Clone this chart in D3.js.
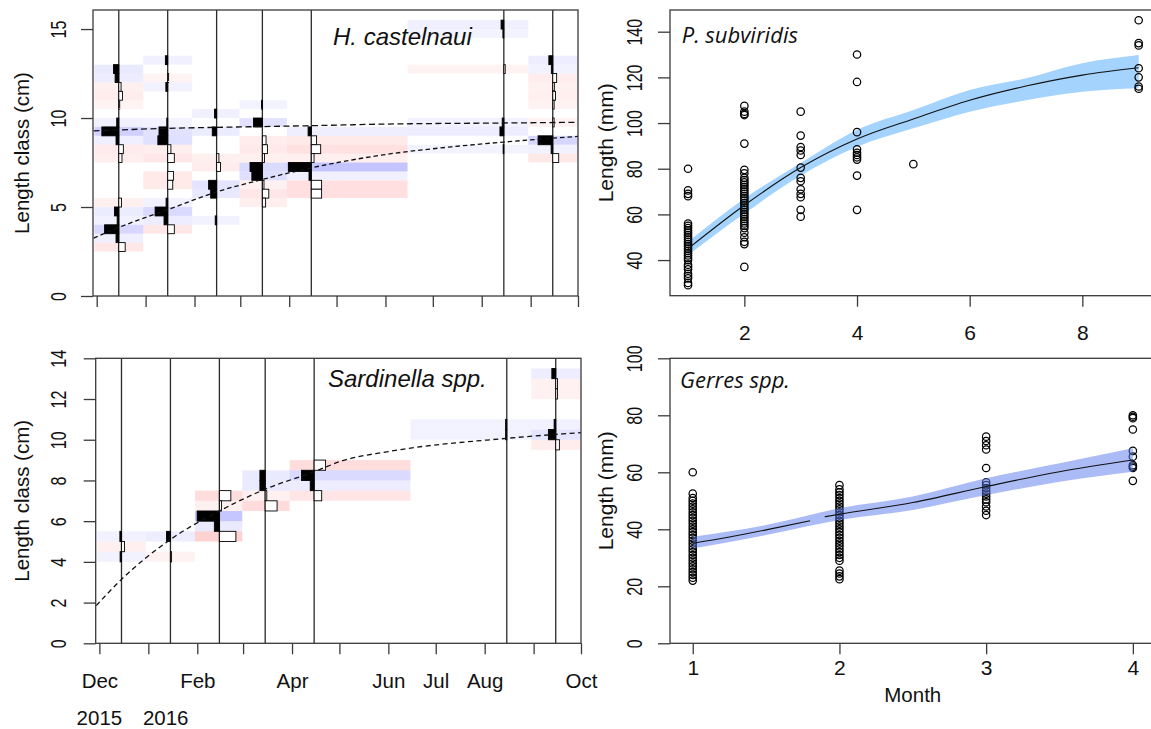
<!DOCTYPE html>
<html>
<head>
<meta charset="utf-8">
<script src="https://cdn.jsdelivr.net/npm/d3@7"></script>
<style>
body { margin: 0; background: #fff; }
svg { display: block; font-family: "Liberation Sans", Arial, sans-serif; }
</style>
</head>
<body>
<svg id="chart" width="1151" height="729"></svg>
<script>
const parse = d3.timeParse("%Y-%m-%d");

// ---- length-frequency panels (left) ----
const sampleDates = ["2015-12-15", "2016-01-15", "2016-02-15", "2016-03-15", "2016-04-15", "2016-08-15", "2016-09-15"];
const monthTicks = ["2015-12-01", "2016-01-01", "2016-02-01", "2016-03-01", "2016-04-01", "2016-05-01",
                    "2016-06-01", "2016-07-01", "2016-08-01", "2016-09-01", "2016-10-01"];
const monthLabels = ["Dec", "", "Feb", "", "Apr", "", "Jun", "Jul", "Aug", "", "Oct"];
const yearTicks = ["2015-12-01", "2016-01-12"];
const yearLabels = ["2015", "2016"];
const binWidth = 0.5;

// restructured frequencies per sample: [bin lower bound, value]
const castelRc = [
  [[12.5, 0.23], [12, 0.16], [11.5, -0.1], [11, -0.16], [10.5, -0.04], [9.5, 0.09], [9, 0.74], [8.5, 0.12],
   [8, -0.2], [7.5, -0.14], [5, -0.12], [4.5, 0.19], [4, 0.07], [3.5, 0.62], [3, 0.12], [2.5, -0.28]],
  [[13, 0.1], [12, -0.04], [11.5, 0.08], [9.5, 0.04], [9, 0.38], [8.5, 0.43], [8, -0.14], [7.5, -0.29],
   [6.5, -0.25], [6, -0.22], [5, 0.07], [4.5, 0.55], [4, 0.16], [3.5, -0.29]],
  [[10, 0.09], [9, 0.19], [7.5, -0.1], [7, -0.17], [6, 0.35], [5.5, 0.26], [4, 0.06]],
  [[10.5, 0.04], [9.5, 0.39], [8.5, -0.16], [8, -0.22], [7.5, -0.09], [7, 0.54], [6.5, 0.46], [6, -0.07],
   [5.5, -0.28], [5, -0.14]],
  [[9, 0.14], [8.5, -0.23], [8, -0.41], [7.5, -0.12], [7, 1.0], [6.5, 0.1], [6, -0.45], [5.5, -0.45]],
  [[15, 0.12], [14.5, 0.04], [12.5, -0.06], [9.5, 0.07], [9, 0.17], [8, 0.03]],
  [[13, 0.17], [12.5, 0.06], [12, -0.17], [11.5, -0.07], [11, -0.12], [10.5, -0.06], [9.5, -0.06],
   [8.5, 0.64], [8, 0.07], [7.5, -0.26]]
];
const castelCurveLow = [["2015-11-29", 3.25], ["2015-12-15", 3.85], ["2016-01-15", 4.85], ["2016-02-15", 5.85],
  ["2016-03-15", 6.55], ["2016-04-15", 7.2], ["2016-06-01", 7.95], ["2016-07-15", 8.4], ["2016-08-15", 8.65],
  ["2016-10-01", 8.97]];
const castelCurveHigh = [["2015-11-29", 9.28], ["2016-01-15", 9.42], ["2016-03-15", 9.52], ["2016-04-15", 9.57],
  ["2016-06-01", 9.66], ["2016-08-15", 9.72], ["2016-10-01", 9.76]];

const sardRc = [
  [[5, 0.07], [4.5, -0.13], [4, 0.06]],
  [[5, 0.17], [4, -0.05]],
  [[7, -0.5], [6.5, -0.09], [6, 0.97], [5.5, 0.22], [5, -0.72]],
  [[8, 0.23], [7.5, 0.23], [7, -0.07], [6.5, -0.52]],
  [[8.5, -0.5], [8, 0.55], [7.5, 0.17], [7, -0.33]],
  [[10.5, 0.05], [10, 0.05]],
  [[13, 0.17], [12.5, -0.08], [12, -0.08], [10.5, 0.07], [10, 0.32], [9.5, -0.16]]
];
const sardCurve = [["2015-11-29", 1.85], ["2015-12-15", 3.14], ["2016-01-15", 5.1], ["2016-02-15", 6.5],
  ["2016-03-15", 7.57], ["2016-04-15", 8.43], ["2016-05-03", 8.97], ["2016-06-01", 9.42],
  ["2016-08-15", 10.07], ["2016-10-01", 10.35]];

// ---- age-length panels (right) ----
const psubLen1 = [80, 70.5, 69, 68, 56, 55, 54, 53, 52, 51, 50, 49, 48, 47, 46, 45, 44, 43, 42, 41, 40, 38, 37, 36, 34, 33, 32, 30, 29];
const psubLen2 = [107.5, 105, 104, 103.5, 91, 79.5, 78, 76, 75, 74, 73, 72, 71, 70, 69, 68, 67, 66, 65, 64, 63, 62, 61,
                  60, 59, 58, 57, 56, 55, 54, 52, 50, 48, 47, 37];
const psubLen3 = [105, 94.5, 89.5, 88, 86, 80.5, 76, 74.5, 71, 69, 67.5, 62, 59];
const psubLen4 = [130, 118, 96, 88.5, 87, 86, 85, 84, 77, 62];
const psubLen5 = [82];
const psubLen9 = [145, 135, 134, 124, 120, 116, 115];
const psubFitAge = [1, 2, 3, 4, 5, 6, 7, 8, 9];
const psubFit = [45, 64, 80.5, 93, 101.8, 110, 116.2, 121, 124.2];
const psubUpper = [48, 67, 82.5, 97, 105.7, 114.5, 119.6, 126.2, 129.8];
const psubLower = [42.2, 60.4, 77, 89.6, 97.7, 105, 110, 113.7, 115.2];

const gerLen1 = [60, 52.5, 51, 50, 49, 48, 47, 46, 45, 44, 43, 42, 41, 40, 39, 38, 37, 36, 35, 34, 33, 32, 31, 30, 29,
                 28, 27, 26, 25, 24, 23, 22];
const gerLen2 = [55.5, 54, 53, 52, 51, 50, 49, 48, 47, 46, 45, 44, 43, 42, 41, 40, 39, 38, 37, 36, 35, 34, 33, 32, 31,
                 30, 29, 25.5, 24.5, 23.5, 22.5];
const gerLen3 = [72.5, 71, 69.5, 68, 61.5, 56.5, 55.5, 54.5, 53.5, 52.5, 51.5, 50.5, 49.5, 48, 46.5, 45];
const gerLen4 = [80, 79.5, 79, 75, 67.5, 65.5, 62.5, 62, 61.5, 57];
const gerFitAgeA = [1, 1.25, 1.5, 1.8];
const gerFitA = [35.1, 37.3, 39.8, 43.0];
const gerFitAgeB = [1.9, 2, 2.5, 3, 3.5, 4];
const gerFitB = [44.4, 45.3, 49.4, 55, 60.2, 64.3];
const gerBandAge = [1, 1.5, 2, 2.5, 3, 3.5, 4];
const gerUpper = [37.4, 41.5, 47.4, 51.5, 57.9, 63.2, 68.4];
const gerLower = [33.3, 38, 43.3, 46.8, 52, 56.7, 60.2];

const svg = d3.select("#chart");
const ink = "#111";
const boxCol = "#3a3a3a";

function rotLabels(sel, off) {
  sel.selectAll("text")
    .attr("x", null).attr("dy", null).attr("y", null)
    .attr("text-anchor", "middle")
    .attr("transform", "translate(" + (-off) + ",0) rotate(-90) scale(0.73,1)")
    .style("font-size", "22px")
    .attr("fill", ink);
}

function lfqPanel(opt) {
  const g = svg.append("g");
  const x = d3.scaleTime().domain([d3.timeHour.offset(parse("2015-11-28"), 16), parse("2016-10-01")])
    .range(opt.xRange);
  const y = d3.scaleLinear().domain(opt.yDomain).range(opt.yRange);
  const xs = sampleDates.map(d => x(parse(d)));
  const left = xs.map((v, i) => i === 0 ? v - (xs[1] - v) / 2 : (xs[i - 1] + v) / 2);
  const right = xs.map((v, i) => i === xs.length - 1 ? v + (v - xs[i - 1]) / 2 : (v + xs[i + 1]) / 2);
  const hs = 0.5 * d3.min(d3.pairs(xs, (a, b) => b - a));
  const cells = opt.rc.flatMap((bins, i) => bins.map(([lo, v]) => ({ i, lo, v })));

  // background shading
  g.append("g").selectAll("rect").data(cells).join("rect")
    .attr("x", d => Math.max(left[d.i], opt.xRange[0]))
    .attr("width", d => Math.min(right[d.i], opt.xRange[1]) - Math.max(left[d.i], opt.xRange[0]))
    .attr("y", d => y(d.lo + binWidth))
    .attr("height", d => y(d.lo) - y(d.lo + binWidth))
    .attr("fill", d => d.v > 0 ? "#0000ff" : "#ff0000")
    .attr("fill-opacity", d => 0.04 + 0.19 * Math.abs(d.v));

  // sample lines
  g.append("g").selectAll("line").data(xs).join("line")
    .attr("x1", d => d).attr("x2", d => d)
    .attr("y1", opt.yRange[0]).attr("y2", opt.yRange[1])
    .attr("stroke", "#2a2a2a").attr("stroke-width", 1.3);

  // histogram bars
  g.append("g").selectAll("rect").data(cells).join("rect")
    .attr("x", d => d.v > 0 ? xs[d.i] - d.v * hs : xs[d.i])
    .attr("width", d => Math.abs(d.v) * hs)
    .attr("y", d => y(d.lo + binWidth))
    .attr("height", d => y(d.lo) - y(d.lo + binWidth))
    .attr("fill", d => d.v > 0 ? "#000" : "#fff")
    .attr("stroke", "#000").attr("stroke-width", 0.9);

  // growth curves
  const line = d3.line().x(d => x(parse(d[0]))).y(d => y(d[1])).curve(d3.curveMonotoneX);
  opt.curves.forEach(c => {
    g.append("path").attr("d", line(c.data)).attr("fill", "none")
      .attr("stroke", "#111").attr("stroke-width", 1.3).attr("stroke-dasharray", c.dash);
  });

  // box
  g.append("rect")
    .attr("x", opt.xRange[0]).attr("y", opt.yRange[1])
    .attr("width", opt.xRange[1] - opt.xRange[0]).attr("height", opt.yRange[0] - opt.yRange[1])
    .attr("fill", "none").attr("stroke", boxCol).attr("stroke-width", 1.3);

  // axes
  const ya = g.append("g").attr("transform", "translate(" + opt.xRange[0] + ",0)")
    .call(d3.axisLeft(y).tickValues(opt.yTicks).tickSize(12).tickSizeOuter(0));
  ya.select(".domain").remove();
  ya.selectAll("line").attr("stroke", boxCol).attr("stroke-width", 1.3);
  rotLabels(ya, opt.xRange[0] - 65.5);

  const xa = g.append("g").attr("transform", "translate(0," + opt.yRange[0] + ")")
    .call(d3.axisBottom(x).tickValues(monthTicks.map(parse)).tickSize(11).tickSizeOuter(0)
      .tickFormat((d, i) => opt.monthText ? monthLabels[i] : ""));
  xa.select(".domain").remove();
  xa.selectAll("line").attr("stroke", boxCol).attr("stroke-width", 1.3);
  xa.selectAll("text").attr("y", 44.7).attr("dy", null).style("font-size", "20.5px").attr("fill", ink);

  if (opt.monthText) {
    g.append("g").selectAll("text").data(yearTicks).join("text")
      .attr("x", d => x(parse(d))).attr("y", opt.yRange[0] + 81.7)
      .attr("text-anchor", "middle").style("font-size", "20.5px").attr("fill", ink)
      .text((d, i) => yearLabels[i]);
  }

  g.append("text")
    .attr("transform", "translate(29," + ((opt.yRange[0] + opt.yRange[1]) / 2) + ") rotate(-90)")
    .attr("text-anchor", "middle").style("font-size", "20.5px").attr("fill", ink)
    .text("Length class (cm)");

  g.append("text").attr("x", opt.labelPos[0]).attr("y", opt.labelPos[1])
    .style("font-size", "24px").style("font-style", "italic").attr("fill", ink)
    .text(opt.label);
}

lfqPanel({
  xRange: [93, 578], yRange: [296, 10], yDomain: [0, 16.07], yTicks: [0, 5, 10, 15],
  rc: castelRc, monthText: false, label: "H. castelnaui", labelPos: [333, 45],
  curves: [{ data: castelCurveHigh, dash: "6,3.5" }, { data: castelCurveLow, dash: "4.5,3" }]
});
lfqPanel({
  xRange: [95.7, 581], yRange: [643.3, 358.3], yDomain: [0, 14], yTicks: [0, 2, 4, 6, 8, 10, 12, 14],
  rc: sardRc, monthText: true, label: "Sardinella spp.", labelPos: [328, 387],
  curves: [{ data: sardCurve, dash: "5,3.5" }]
});

function agePanel(opt) {
  const g = svg.append("g");
  const x = d3.scaleLinear().domain(opt.xDomain).range(opt.xRange);
  const y = d3.scaleLinear().domain(opt.yDomain).range(opt.yRange);
  const pts = opt.groups.flatMap(([age, lens]) => lens.map(v => ({ age, v })));
  const band = d3.area().x(d => x(d[0])).y0(d => y(d[1])).y1(d => y(d[2])).curve(d3.curveMonotoneX);
  const bandData = d3.zip(opt.bandAge, opt.lower, opt.upper);

  if (!opt.bandOnTop) {
    g.append("path").attr("d", band(bandData)).attr("fill", opt.bandColor).attr("fill-opacity", opt.bandOpacity);
  }
  g.append("g").selectAll("circle").data(pts).join("circle")
    .attr("cx", d => x(d.age)).attr("cy", d => y(d.v)).attr("r", 3.7)
    .attr("fill", "none").attr("stroke", "#000").attr("stroke-width", 1.25);
  if (opt.bandOnTop) {
    g.append("path").attr("d", band(bandData)).attr("fill", opt.bandColor).attr("fill-opacity", opt.bandOpacity);
  }
  const line = d3.line().x(d => x(d[0])).y(d => y(d[1])).curve(d3.curveMonotoneX);
  opt.fits.forEach(f => {
    g.append("path").attr("d", line(d3.zip(f[0], f[1]))).attr("fill", "none")
      .attr("stroke", "#111").attr("stroke-width", 1.1);
  });

  // box (right side falls outside the picture)
  g.append("rect")
    .attr("x", opt.xRange[0]).attr("y", opt.yRange[1])
    .attr("width", opt.xRange[1] - opt.xRange[0]).attr("height", opt.yRange[0] - opt.yRange[1])
    .attr("fill", "none").attr("stroke", boxCol).attr("stroke-width", 1.3);

  const ya = g.append("g").attr("transform", "translate(" + opt.xRange[0] + ",0)")
    .call(d3.axisLeft(y).tickValues(opt.yTicks).tickSize(12).tickSizeOuter(0));
  ya.select(".domain").remove();
  ya.selectAll("line").attr("stroke", boxCol).attr("stroke-width", 1.3);
  rotLabels(ya, opt.xRange[0] - 642);

  const xa = g.append("g").attr("transform", "translate(0," + opt.yRange[0] + ")")
    .call(d3.axisBottom(x).tickValues(opt.xTicks).tickSize(11).tickSizeOuter(0).tickFormat(d3.format("d")));
  xa.select(".domain").remove();
  xa.selectAll("line").attr("stroke", boxCol).attr("stroke-width", 1.3);
  xa.selectAll("text").attr("y", opt.xLabelOff).attr("dy", null).style("font-size", "21px").attr("fill", ink);

  g.append("text")
    .attr("transform", "translate(613," + ((opt.yRange[0] + opt.yRange[1]) / 2 - 10) + ") rotate(-90)")
    .attr("text-anchor", "middle").style("font-size", "21px").attr("fill", ink)
    .text("Length (mm)");

  g.append("text").attr("x", opt.labelPos[0]).attr("y", opt.labelPos[1])
    .style("font-family", "'Open Sans', sans-serif")
    .style("font-size", "22px").style("font-style", "italic").attr("fill", ink)
    .text(opt.label);

  if (opt.xTitle) {
    g.append("text").attr("x", (opt.xRange[0] + opt.xRange[1]) / 2).attr("y", 701.7)
      .attr("text-anchor", "middle").style("font-size", "20.5px").attr("fill", ink)
      .text(opt.xTitle);
  }
}

agePanel({
  xDomain: [0.68, 9.32], xRange: [670, 1156.7], yDomain: [24.4, 149.5], yRange: [295.7, 10],
  xTicks: [2, 4, 6, 8], yTicks: [40, 60, 80, 100, 120, 140], xLabelOff: 44.3,
  groups: [[1, psubLen1], [2, psubLen2], [3, psubLen3], [4, psubLen4], [5, psubLen5], [9, psubLen9]],
  bandAge: psubFitAge, lower: psubLower, upper: psubUpper, bandColor: "#a4d3fd", bandOpacity: 1, bandOnTop: false,
  fits: [[psubFitAge, psubFit]], label: "P. subviridis", labelPos: [681.7, 43]
});
agePanel({
  xDomain: [0.845, 4.155], xRange: [670, 1155.6], yDomain: [0, 100], yRange: [643.3, 358.3],
  xTicks: [1, 2, 3, 4], yTicks: [0, 20, 40, 60, 80, 100], xLabelOff: 31.7,
  groups: [[1, gerLen1], [2, gerLen2], [3, gerLen3], [4, gerLen4]],
  bandAge: gerBandAge, lower: gerLower, upper: gerUpper, bandColor: "#5577ee", bandOpacity: 0.5, bandOnTop: true,
  fits: [[gerFitAgeA, gerFitA], [gerFitAgeB, gerFitB]], label: "Gerres spp.", labelPos: [680, 388],
  xTitle: "Month"
});
</script>
</body>
</html>
